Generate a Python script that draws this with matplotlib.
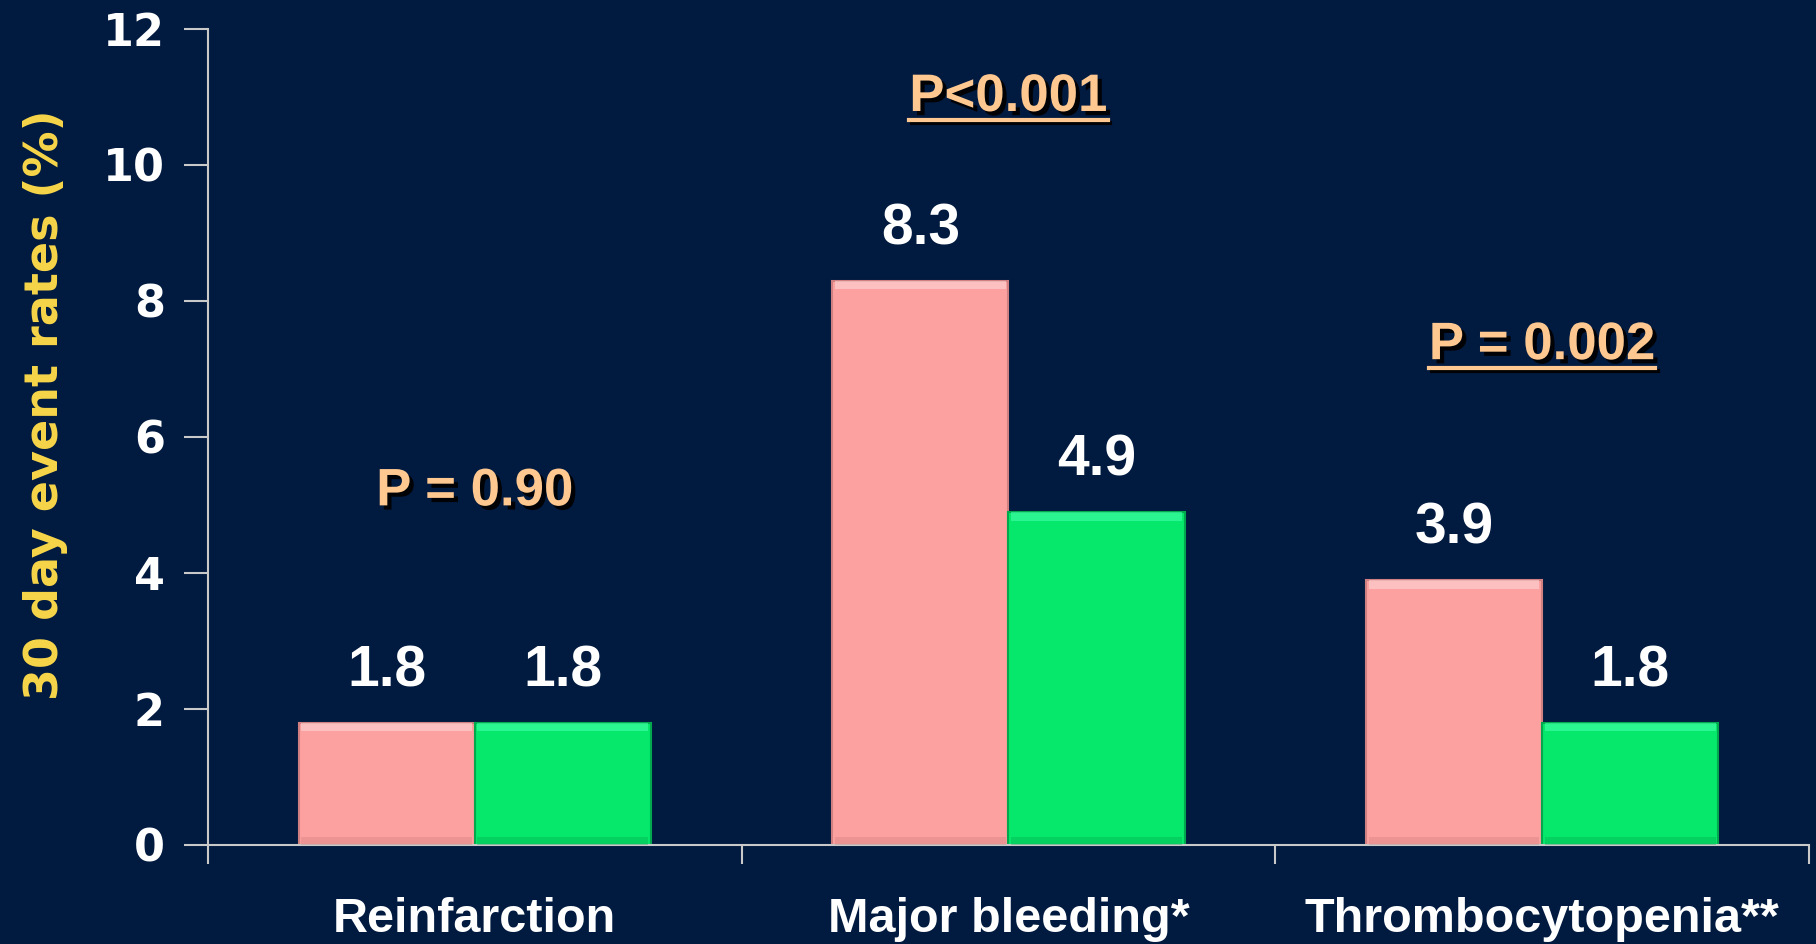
import matplotlib
matplotlib.use("Agg")
import matplotlib.pyplot as plt
import matplotlib.patheffects as pe
from matplotlib import font_manager
from matplotlib.lines import Line2D
import numpy as np

categories = ["Reinfarction", "Major bleeding*", "Thrombocytopenia**"]
group_a = [1.8, 8.3, 3.9]
group_b = [1.8, 4.9, 1.8]
p_labels = ["P = 0.90", "P<0.001", "P = 0.002"]
p_underlined = [False, True, True]
p_heights = [5.2, 11.0, 7.35]
y_ticks = [0, 2, 4, 6, 8, 10, 12]

BG = "#011a3f"
PINK = "#fca0a0"
PINK_HI = "#ffd6d6"
PINK_LO = "#d08080"
GREEN = "#05e86b"
GREEN_HI = "#45ffaa"
GREEN_LO = "#03a84e"
PEACH = "#ffc890"
YELLOW = "#f7d64a"
AXIS = "#c9c9c9"

# pick a condensed bold face for the axis title if one is installed
condensed = None
for f in font_manager.fontManager.ttflist:
    st = f.stretch if isinstance(f.stretch, int) else font_manager.stretch_dict.get(f.stretch, 500)
    if st <= 300 and "CJK" not in f.name:
        condensed = f.name
        break
arial = "Liberation Sans"
title_font = condensed if condensed else arial

fig = plt.figure(figsize=(18.16, 9.44), dpi=100, facecolor=BG)
ax = fig.add_axes([0.1145, 0.1049, 0.8816, 0.8644])
ax.set_facecolor(BG)

x = np.arange(len(categories))
w = 0.33
for xs, vals, c, hi, lo in [(x - w / 2, group_a, PINK, PINK_HI, PINK_LO),
                            (x + w / 2, group_b, GREEN, GREEN_HI, GREEN_LO)]:
    ax.bar(xs, vals, width=w, color=c, edgecolor=lo, linewidth=1.5, zorder=2)
    # bevel: light band along the top, darker band along the base
    ax.bar(xs, [0.13] * len(vals), bottom=[v - 0.13 for v in vals], width=w * 0.97,
           color=hi, alpha=0.6, linewidth=0, zorder=3)
    ax.bar(xs, [0.12] * len(vals), bottom=0.0, width=w * 0.97,
           color=lo, alpha=0.35, linewidth=0, zorder=3)
    for xi, v in zip(xs, vals):
        ax.annotate(f"{v:.1f}", (xi, v), xytext=(0, 36), textcoords="offset pixels",
                    ha="center", va="baseline", color="white", fontsize=41,
                    fontweight="bold", family=arial, zorder=4)

ax.set_xlim(-0.5, 2.5)
ax.set_ylim(0, 12)
ax.set_yticks(y_ticks)
ax.set_yticklabels([str(t) for t in y_ticks], fontsize=32, fontweight="heavy",
                   color="white", family="DejaVu Sans")
ax.tick_params(axis="y", direction="out", length=17, width=1.5, color=AXIS, pad=14)
ax.set_xticks([-0.5, 0.5, 1.5, 2.5])
ax.set_xticklabels([])
ax.tick_params(axis="x", direction="out", length=14, width=1.5, color=AXIS)
for s in ["top", "right"]:
    ax.spines[s].set_visible(False)
for s in ["left", "bottom"]:
    ax.spines[s].set_color(AXIS)
    ax.spines[s].set_linewidth(1.5)

for xi, name in zip(x, categories):
    ax.text(xi, -1.28, name, ha="center", va="baseline", color="white",
            fontsize=35, fontweight="bold", family=arial, clip_on=False)

ylab = fig.text(0.025, 0.571, "30 day event rates (%)", rotation=90, ha="center",
                va="center", color=YELLOW, fontsize=44, fontweight="bold",
                family=title_font)

shadow = [pe.SimplePatchShadow(offset=(3, -3), shadow_rgbFace="black", alpha=0.9),
          pe.Normal()]
p_texts = []
for xi, lab, h in zip(x, p_labels, p_heights):
    t = ax.text(xi, h, lab, ha="center", va="center",
                color=PEACH, fontsize=38, fontweight="bold", family=arial,
                path_effects=shadow, zorder=5)
    p_texts.append(t)

fig.canvas.draw()
renderer = fig.canvas.get_renderer()

# keep the axis title within its vertical span
target = 590.0
span = ylab.get_window_extent(renderer).height
if span > target:
    ylab.set_fontsize(44 * target / span)
    fig.canvas.draw()

inv = fig.transFigure.inverted()
for t, u in zip(p_texts, p_underlined):
    if not u:
        continue
    bb = t.get_window_extent(renderer)
    (x0, y0), (x1, _) = inv.transform([(bb.x0, bb.y0 + 2), (bb.x1, bb.y0)])
    fig.add_artist(Line2D([x0, x1], [y0, y0], color=PEACH, linewidth=3,
                          path_effects=[pe.SimpleLineShadow(offset=(2, -2), shadow_color="black", alpha=0.9),
                                        pe.Normal()]))

fig.savefig("out.png", dpi=100, facecolor=BG)
